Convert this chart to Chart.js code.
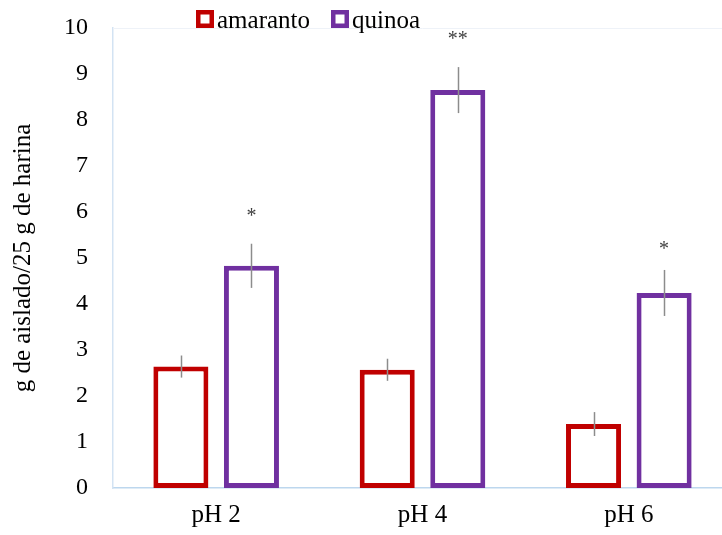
<!DOCTYPE html>
<html>
<head>
<meta charset="utf-8">
<script src="https://cdn.jsdelivr.net/npm/chart.js@4.4.1/dist/chart.umd.min.js"></script>
<style>
  html, body { margin: 0; padding: 0; background: #ffffff; overflow: hidden; width: 722px; height: 535px; }
  canvas { display: block; }
</style>
</head>
<body>
<canvas id="c" width="740" height="535" style="width:740px;height:535px"></canvas>
<script>
// ---- data ----
const categories = ['pH 2', 'pH 4', 'pH 6'];
const seriesNames = ['amaranto', 'quinoa'];
const amaranto = [2.64, 2.57, 1.39];
const quinoa = [4.83, 8.65, 4.24];
const amarantoErr = [0.24, 0.24, 0.26];
const quinoaErr = [0.48, 0.50, 0.50];
const quinoaMarks = ['*', '**', '*'];
const quinoaMarkLevels = [5.98, 9.83, 5.28];
const yMin = 0, yMax = 10, yStep = 1;
const yTitle = 'g de aislado/25 g de harina';

const RED = '#C00000';
const PURPLE = '#7030A0';
const SERIF = '"Liberation Serif", "Times New Roman", serif';

const errorBarPlugin = {
  id: 'errorBars',
  afterDatasetsDraw(chart) {
    const ctx = chart.ctx;
    const y = chart.scales.y;
    const errs = [amarantoErr, quinoaErr];
    ctx.save();
    ctx.strokeStyle = '#8C8C8C';
    ctx.lineWidth = 1.5;
    chart.data.datasets.forEach((ds, di) => {
      const meta = chart.getDatasetMeta(di);
      meta.data.forEach((bar, i) => {
        const v = ds.data[i];
        const e = errs[di][i];
        const x = Math.round(bar.x) + 0.5;
        ctx.beginPath();
        ctx.moveTo(x, y.getPixelForValue(v + e));
        ctx.lineTo(x, y.getPixelForValue(v - e));
        ctx.stroke();
      });
    });
    const qMeta = chart.getDatasetMeta(1);
    ctx.fillStyle = '#404040';
    ctx.font = '20px ' + SERIF;
    ctx.textAlign = 'center';
    ctx.textBaseline = 'alphabetic';
    qMeta.data.forEach((bar, i) => {
      const py = y.getPixelForValue(quinoaMarkLevels[i]);
      ctx.fillText(quinoaMarks[i], bar.x, py + 9.5);
    });
    ctx.restore();
  }
};

const frameAndLegendPlugin = {
  id: 'frameLegend',
  beforeDatasetsDraw(chart) {
    const ctx = chart.ctx;
    const a = chart.chartArea;
    ctx.save();
    ctx.strokeStyle = '#EEF2F8';
    ctx.lineWidth = 1;
    ctx.beginPath();
    ctx.moveTo(a.left, Math.round(a.top) + 0.5);
    ctx.lineTo(a.right, Math.round(a.top) + 0.5);
    ctx.stroke();
    ctx.restore();
  },
  afterDraw(chart) {
    const ctx = chart.ctx;
    ctx.save();
    ctx.font = '25px ' + SERIF;
    ctx.textBaseline = 'alphabetic';
    ctx.textAlign = 'left';
    let x = 196;
    const baseline = 28;
    const box = 18;
    chart.data.datasets.forEach((ds) => {
      ctx.fillStyle = '#ffffff';
      ctx.fillRect(x, baseline - box, box, box);
      ctx.strokeStyle = ds.borderColor;
      ctx.lineWidth = 4.5;
      ctx.strokeRect(x + 2.25, baseline - box + 2.25, box - 4.5, box - 4.5);
      const tx = x + box + 3;
      ctx.fillStyle = '#000000';
      ctx.fillText(ds.label, tx, baseline);
      x = tx + ctx.measureText(ds.label).width + 21;
    });
    ctx.restore();
  }
};

new Chart(document.getElementById('c'), {
  type: 'bar',
  data: {
    labels: categories,
    datasets: [
      {
        label: seriesNames[0],
        data: amaranto,
        backgroundColor: '#ffffff',
        borderColor: RED,
        borderWidth: 5,
        borderSkipped: false,
        categoryPercentage: 0.684,
        barPercentage: 0.78
      },
      {
        label: seriesNames[1],
        data: quinoa,
        backgroundColor: '#ffffff',
        borderColor: PURPLE,
        borderWidth: 5,
        borderSkipped: false,
        categoryPercentage: 0.684,
        barPercentage: 0.78
      }
    ]
  },
  options: {
    responsive: false,
    animation: false,
    events: [],
    layout: { padding: { top: 28, right: 8, left: 0, bottom: 0 } },
    plugins: {
      legend: { display: false },
      tooltip: { enabled: false },
      title: { display: false }
    },
    scales: {
      x: {
        grid: { display: false, drawTicks: false },
        border: { display: true, color: '#BDD7EE', width: 1.5 },
        ticks: {
          color: '#000000',
          font: { family: SERIF, size: 25 },
          padding: 12
        },
        afterFit(scale) { scale.height = 47; scale.paddingLeft = 0; scale.paddingRight = 0; }
      },
      y: {
        min: yMin,
        max: yMax,
        grid: { display: false, drawTicks: false },
        border: { display: true, color: '#D3E3F3', width: 1.5 },
        ticks: {
          stepSize: yStep,
          color: '#000000',
          font: { family: SERIF, size: 24 },
          padding: 25
        },
        title: {
          display: true,
          text: yTitle,
          color: '#000000',
          font: { family: SERIF, size: 25 },
          padding: { top: 8, bottom: 0 }
        },
        afterFit(scale) { scale.width = 113; scale.paddingTop = 0; scale.paddingBottom = 0; }
      }
    }
  },
  plugins: [errorBarPlugin, frameAndLegendPlugin]
});
</script>
</body>
</html>
